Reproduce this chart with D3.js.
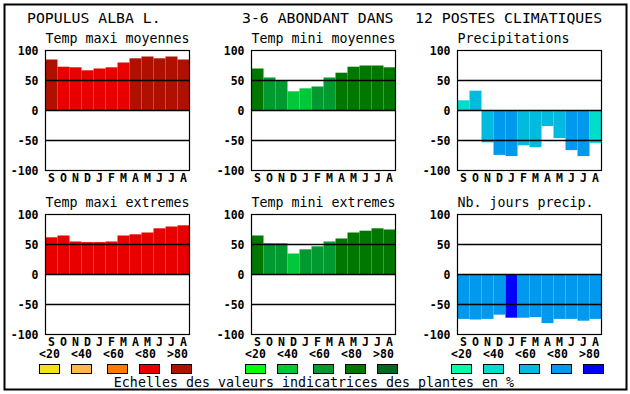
<!DOCTYPE html>
<meta charset="utf-8">
<style>
    body { margin: 0; background: #fff; }
    text { font-family: "DejaVu Sans Mono", "Liberation Mono", monospace; fill: #000; }
    .tick-lab { font-size: 11.5px; font-weight: bold; }
    .sub { font-size: 13.3px; }
    .title { font-size: 14.8px; }
</style>
<body>
<script src="https://d3js.org/d3.v7.min.js"></script>
<script>
    // months, Sept -> Aug
    var months = ["S","O","N","D","J","F","M","A","M","J","J","A"];
    var yTicks = [100, 50, 0, -50, -100];
    var classLabels = ["<20","<40","<60","<80",">80"];

    // colour scales (class 0..4)
    var redScale   = ["#f5e11b","#ffb84d","#ff7a00","#e80000","#b01000"];
    var greenScale = ["#00ff10","#00c838","#009a30","#007800","#006820"];
    var blueScale  = ["#00ffaa","#00ddcc","#00bbdd","#0099ee","#0000ff"];

    // values per panel
    var tmaxMoy   = [85, 73, 72, 67, 70, 72, 80, 87, 90, 87, 90, 85];
    var tmaxMoyC  = [4, 3, 3, 3, 3, 3, 3, 4, 4, 4, 4, 4];
    var tminMoy   = [70, 55, 50, 32, 37, 40, 55, 63, 73, 75, 75, 72];
    var tminMoyC  = [3, 2, 2, 1, 1, 2, 2, 3, 3, 3, 3, 3];
    var precip    = [17, 33, -53, -74, -76, -58, -61, -26, -46, -66, -76, -54];
    var precipC   = [1, 2, 2, 3, 3, 2, 2, 2, 2, 3, 3, 1];
    var tmaxExt   = [62, 65, 55, 54, 54, 55, 65, 67, 70, 77, 80, 82];
    var tmaxExtC  = [3, 3, 3, 3, 3, 3, 3, 3, 3, 3, 3, 3];
    var tminExt   = [65, 52, 52, 35, 42, 47, 55, 60, 70, 73, 77, 75];
    var tminExtC  = [3, 2, 2, 1, 2, 2, 2, 3, 3, 3, 3, 3];
    var nbJours   = [-74, -75, -74, -67, -72, -72, -71, -81, -74, -74, -77, -74];
    var nbJoursC  = [3, 3, 3, 3, 4, 3, 3, 3, 3, 3, 3, 3];

    var panels = [
        {title: "Temp maxi moyennes", values: tmaxMoy, cls: tmaxMoyC, pal: redScale},
        {title: "Temp mini moyennes", values: tminMoy, cls: tminMoyC, pal: greenScale},
        {title: "Precipitations",     values: precip,  cls: precipC,  pal: blueScale},
        {title: "Temp maxi extremes", values: tmaxExt, cls: tmaxExtC, pal: redScale},
        {title: "Temp mini extremes", values: tminExt, cls: tminExtC, pal: greenScale},
        {title: "Nb. jours precip.",  values: nbJours, cls: nbJoursC, pal: blueScale}
    ];
    var legendPals = [redScale, greenScale, blueScale];

    var W = 630, H = 394;
    var pw = 144, ph = 120;
    var colX = [45.5, 251.5, 457.5];
    var rowY = [50.5, 214.5];

    var svg = d3.select("body").append("svg")
        .attr("width", W)
        .attr("height", H);

    // outer frame
    svg.append("rect")
        .attr("x", 4.5).attr("y", 4.5)
        .attr("width", 622).attr("height", 385)
        .attr("fill", "none").attr("stroke", "#000").attr("stroke-width", 2);

    // main title
    svg.append("text").attr("class", "title").attr("x", 27).attr("y", 23).text("POPULUS ALBA L.");
    svg.append("text").attr("class", "title").attr("x", 242).attr("y", 23).text("3-6 ABONDANT DANS");
    svg.append("text").attr("class", "title").attr("x", 415).attr("y", 23).text("12 POSTES CLIMATIQUES");

    var x = d3.scaleBand().domain(d3.range(12)).range([0, pw]).padding(0);
    var y = d3.scaleLinear().domain([-100, 100]).range([ph, 0]);

    panels.forEach(function(p, i) {
        var g = svg.append("g")
            .attr("transform", "translate(" + colX[i % 3] + "," + rowY[Math.floor(i / 3)] + ")");

        g.append("text").attr("class", "sub")
            .attr("x", 0).attr("y", -7.5)
            .text(p.title);

        // bars
        g.selectAll("rect.bar")
            .data(p.values)
            .enter().append("rect")
            .attr("class", "bar")
            .attr("x", function(d, j) { return x(j); })
            .attr("width", x.bandwidth())
            .attr("y", function(d) { return y(Math.max(d, 0)); })
            .attr("height", function(d) { return Math.abs(y(d) - y(0)); })
            .attr("fill", function(d, j) { return p.pal[p.cls[j]]; });

        // grid lines at 50, 0, -50
        g.selectAll("line.grid")
            .data([50, 0, -50])
            .enter().append("line")
            .attr("x1", 0).attr("x2", pw)
            .attr("y1", function(d) { return y(d); })
            .attr("y2", function(d) { return y(d); })
            .attr("stroke", "#000").attr("stroke-width", 1.3);

        g.append("rect")
            .attr("width", pw).attr("height", ph)
            .attr("fill", "none").attr("stroke", "#000").attr("stroke-width", 1.2);

        // y tick labels
        g.selectAll("text.yt")
            .data(yTicks)
            .enter().append("text")
            .attr("class", "tick-lab")
            .attr("x", -7).attr("y", function(d) { return y(d) + 4; })
            .style("text-anchor", "end")
            .text(function(d) { return d; });

        // month labels
        g.selectAll("text.mt")
            .data(months)
            .enter().append("text")
            .attr("class", "tick-lab")
            .attr("x", function(d, j) { return x(j) + x.bandwidth() / 2; })
            .attr("y", ph + 11)
            .style("text-anchor", "middle")
            .text(function(d) { return d; });
    });

    // legends
    var labX = [0, 32, 64, 96, 128];
    var boxX = [0, 32, 68, 100, 132];
    legendPals.forEach(function(pal, k) {
        var lg = svg.append("g").attr("transform", "translate(" + (39.5 + 206 * k) + ",0)");
        lg.selectAll("text")
            .data(classLabels)
            .enter().append("text")
            .attr("class", "tick-lab")
            .attr("x", function(d, j) { return labX[j] + 10; })
            .attr("y", 358)
            .style("text-anchor", "middle")
            .text(function(d) { return d; });
        lg.selectAll("rect")
            .data(pal)
            .enter().append("rect")
            .attr("x", function(d, j) { return boxX[j]; })
            .attr("y", 364.5)
            .attr("width", 20).attr("height", 9)
            .attr("fill", function(d) { return d; })
            .attr("stroke", "#000").attr("stroke-width", 1);
    });

    svg.append("text").attr("class", "sub")
        .attr("x", 314).attr("y", 387)
        .style("text-anchor", "middle")
        .text("Echelles des valeurs indicatrices des plantes en %");
</script>
</body>
